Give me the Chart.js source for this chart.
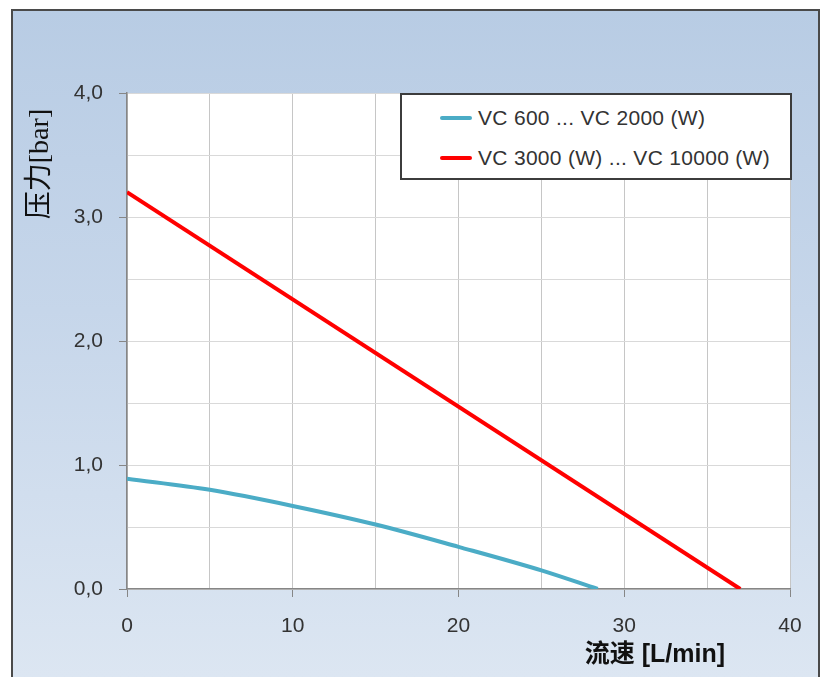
<!DOCTYPE html>
<html>
<head>
<meta charset="utf-8">
<script src="https://cdn.jsdelivr.net/npm/chart.js@4/dist/chart.umd.min.js"></script>
<style>
  html, body { margin: 0; padding: 0; background: #fff; }
  #wrap { position: relative; width: 824px; height: 677px; }
  #frame {
    position: absolute; left: 11px; top: 9px; width: 805px; height: 666px;
    border: 2px solid #4a4a4a;
    background: linear-gradient(to bottom, #b8cce4 0%, #c6d6ea 45%, #dce6f2 100%);
  }
  #c { position: absolute; left: 0; top: 0; }
  #legend {
    position: absolute; left: 400px; top: 93px; width: 388px; height: 83px;
    background: #fff; border: 2px solid #3c3c3c;
    font-family: "Liberation Sans", Arial, sans-serif; font-size: 21px; letter-spacing: 0.3px; color: #333;
  }
  #legend .item { position: absolute; left: 38px; height: 24px; line-height: 24px; white-space: nowrap; }
  #legend .swatch { display: inline-block; width: 32px; height: 4px; border-radius: 2px; vertical-align: middle; margin-right: 6px; position: relative; top: -1px; }
</style>
</head>
<body>
<div id="wrap">
  <div id="frame"></div>
  <canvas id="c" width="824" height="677"></canvas>
  <div id="legend"></div>
</div>
<script>
// series: flow [L/min] vs pressure [bar]
const smallFlow = [0, 5, 10, 15, 20, 25, 28.4]
const smallPressure = [0.89, 0.80, 0.67, 0.52, 0.34, 0.15, 0]
const bigFlow = [0, 37]
const bigPressure = [3.2, 0]
const seriesNames = ['VC 600 ... VC 2000 (W)', 'VC 3000 (W) ... VC 10000 (W)']
const seriesColors = ['#4bacc6', '#ff0000']

const xTitle = '流速 [L/min]'
const yTitle = '压力[bar]'

const toPoints = (xs, ys) => xs.map((x, i) => ({ x: x, y: ys[i] }))
const tickFont = { family: '"Liberation Sans", Arial, sans-serif', size: 21 }

// draw axis titles where the original sits them
const titlesPlugin = {
	id: 'titles',
	afterDraw(chart) {
		const ctx = chart.ctx
		ctx.save()
		ctx.fillStyle = '#111'
		ctx.textBaseline = 'middle'
		ctx.textAlign = 'right'
		ctx.font = 'bold 25px "Liberation Sans", "Noto Sans CJK SC", sans-serif'
		ctx.fillText(xTitle, 725, 655)
		ctx.translate(41, 164)
		ctx.rotate(-Math.PI / 2)
		ctx.textAlign = 'center'
		ctx.font = '28px "Liberation Serif", "Noto Sans CJK SC", serif'
		ctx.fillText(yTitle, 0, 0)
		ctx.restore()
	}
}

const chart = new Chart(document.getElementById('c'), {
	type: 'line',
	data: {
		datasets: [
			{
				label: seriesNames[0],
				data: toPoints(smallFlow, smallPressure),
				borderColor: seriesColors[0],
				borderWidth: 4,
				pointRadius: 0,
				cubicInterpolationMode: 'monotone',
				fill: false
			},
			{
				label: seriesNames[1],
				data: toPoints(bigFlow, bigPressure),
				borderColor: seriesColors[1],
				borderWidth: 4,
				pointRadius: 0,
				fill: false
			}
		]
	},
	options: {
		responsive: false,
		animation: false,
		layout: { padding: { top: 93, right: 34, left: 0, bottom: 0 } },
		plugins: { legend: { display: false }, tooltip: { enabled: false } },
		scales: {
			x: {
				type: 'linear',
				min: 0,
				max: 40,
				afterFit(scale) { scale.height = 88 },
				ticks: {
					stepSize: 5,
					autoSkip: false,
					maxRotation: 0,
					padding: 17,
					color: '#333',
					font: tickFont,
					callback: v => (v % 10 === 0 ? v : '')
				},
				grid: {
					color: '#c6c6c6',
					lineWidth: 1,
					tickLength: 8,
					tickColor: c => (c.tick && c.tick.value % 10 === 0 ? '#868686' : 'rgba(0,0,0,0)')
				},
				border: { color: '#868686', width: 1.5 }
			},
			y: {
				type: 'linear',
				min: 0,
				max: 4,
				afterFit(scale) { scale.width = 127 },
				ticks: {
					stepSize: 0.5,
					autoSkip: false,
					padding: 16,
					color: '#333',
					font: tickFont,
					callback: v => (Number.isInteger(v) ? v.toFixed(1).replace('.', ',') : '')
				},
				grid: {
					color: '#d9d9d9',
					lineWidth: 1,
					tickLength: 8,
					tickColor: c => (c.tick && Number.isInteger(c.tick.value) ? '#868686' : 'rgba(0,0,0,0)')
				},
				border: { color: '#868686', width: 1.5 }
			}
		}
	},
	plugins: [titlesPlugin, {
		id: 'plotBg',
		beforeDraw(chart) {
			const a = chart.chartArea
			chart.ctx.save()
			chart.ctx.fillStyle = '#fff'
			chart.ctx.fillRect(a.left, a.top, a.right - a.left, a.bottom - a.top)
			chart.ctx.restore()
		}
	}]
})

// legend built from the chart's datasets
const legend = document.getElementById('legend')
chart.data.datasets.forEach((ds, i) => {
	const item = document.createElement('div')
	item.className = 'item'
	item.style.top = (11 + i * 40) + 'px'
	const sw = document.createElement('span')
	sw.className = 'swatch'
	sw.style.background = ds.borderColor
	item.appendChild(sw)
	item.appendChild(document.createTextNode(ds.label))
	legend.appendChild(item)
})
</script>
</body>
</html>
